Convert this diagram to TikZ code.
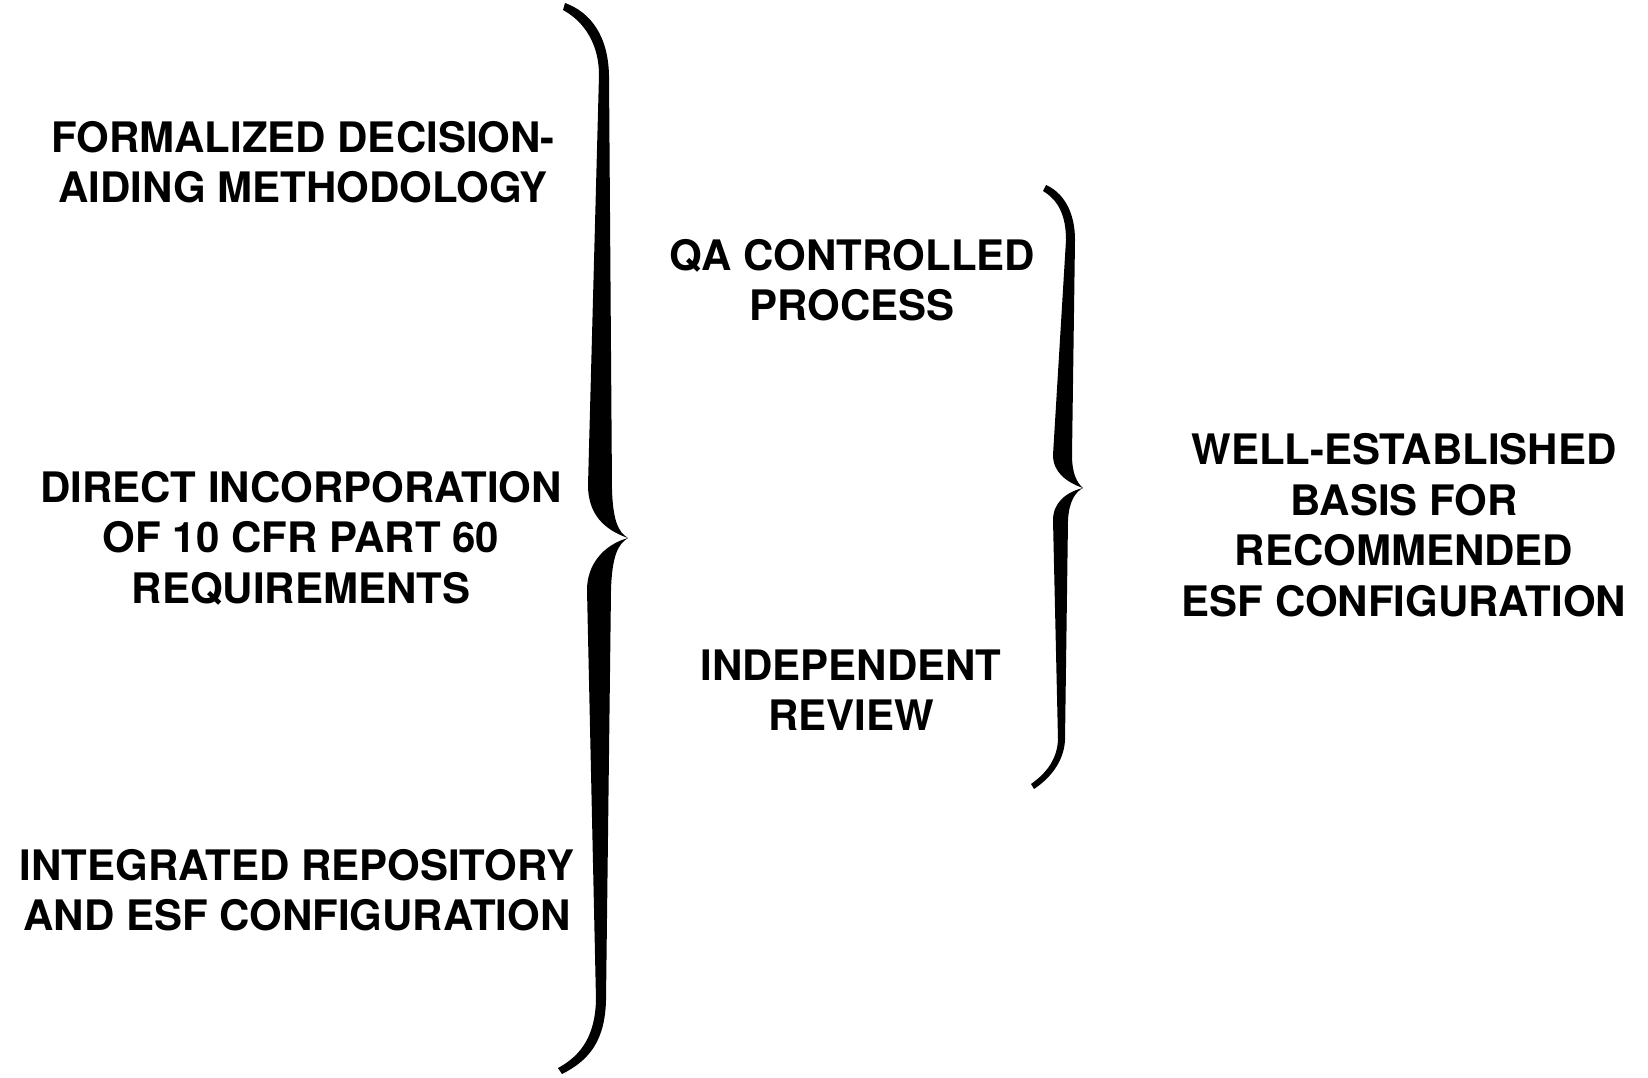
\documentclass[tikz,border=0pt]{standalone}
\usepackage{fontspec}
\setmainfont{TeX Gyre Heros}
\usepackage{tikz}
\usetikzlibrary{positioning}

\tikzset{
  itembox/.style={
    inner sep=0pt,align=center,
    font=\bfseries\fontsize{42}{50.5}\selectfont
  },
  bracefill/.style={fill=black,draw=none}
}

\begin{document}
\begin{tikzpicture}[x=1pt,y=-1pt]
\useasboundingbox (0,0) rectangle (1648,1078);

% left column
\node[itembox] (formal) at (303,162) {FORMALIZED DECISION-\\AIDING METHODOLOGY};
\node[itembox] (direct) at (301,538) {DIRECT INCORPORATION\\OF 10 CFR PART 60\\REQUIREMENTS};
\node[itembox] (integ)  at (297,890) {INTEGRATED REPOSITORY\\AND ESF CONFIGURATION};

% middle column
\node[itembox] (qa)    at (852,280) {QA CONTROLLED\\PROCESS};
\node[itembox] (indep) at (851,690) {INDEPENDENT\\REVIEW};

% result
\node[itembox] (basis) at (1404,525) {WELL-ESTABLISHED\\BASIS FOR\\RECOMMENDED\\ESF CONFIGURATION};

% big brace
\fill[bracefill] (565,3) .. controls (590,12) and (608,35) .. (609,75)
  -- (612,490) .. controls (613,520) and (618,532) .. (628,538)
  .. controls (618,544) and (612,556) .. (611,590)
  -- (606,1000) .. controls (605,1040) and (590,1060) .. (562,1074)
  -- (558,1068) .. controls (582,1055) and (595,1035) .. (596,1000)
  -- (587,590) .. controls (587,565) and (603,545) .. (628,538)
  .. controls (605,530) and (588,515) .. (588,485)
  -- (599,75) .. controls (599,45) and (585,22) .. (563,10)
  -- cycle;

% small brace
\fill[bracefill] (1046,185) .. controls (1062,192) and (1075,210) .. (1075,240)
  -- (1072,455) .. controls (1072,472) and (1076,482) .. (1083,488)
  .. controls (1075,492) and (1069,502) .. (1068,520)
  -- (1065,740) .. controls (1064,760) and (1052,777) .. (1034,789)
  -- (1031,784) .. controls (1048,772) and (1057,758) .. (1058,740)
  -- (1053,520) .. controls (1053,503) and (1066,492) .. (1083,488)
  .. controls (1066,482) and (1053,472) .. (1053,455)
  -- (1066,240) .. controls (1066,215) and (1058,200) .. (1043,191)
  -- cycle;

\end{tikzpicture}
\end{document}
